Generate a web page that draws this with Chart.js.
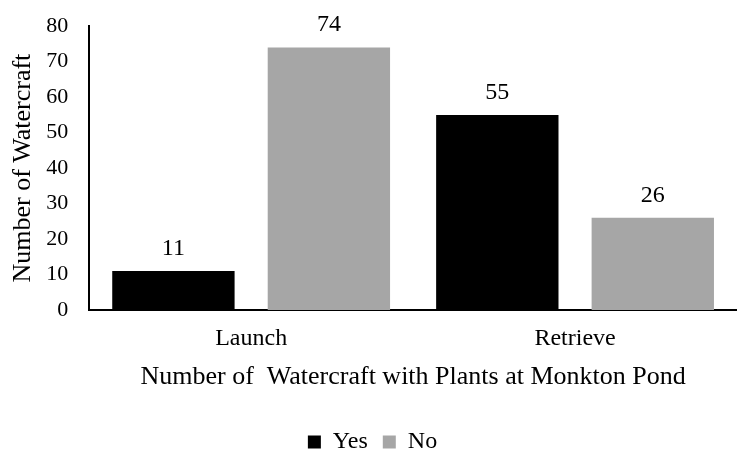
<!DOCTYPE html>
<html>
<head>
<meta charset="utf-8">
<script src="https://cdn.jsdelivr.net/npm/chart.js@4"></script>
<style>
  html, body { margin: 0; padding: 0; background: #fff; }
  #wrap { width: 737px; height: 454px; }
</style>
</head>
<body>
<div id="wrap"><canvas id="barChart"></canvas></div>
<script>
const categories = ['Launch', 'Retrieve'];
const yesValues = [11, 55];
const noValues = [74, 26];
const yTicks = [0, 10, 20, 30, 40, 50, 60, 70, 80];

const serif = "'Liberation Serif', 'Times New Roman', serif";

// draws the number above each bar
const valueLabels = {
    id: 'valueLabels',
    afterDatasetsDraw(chart) {
        const ctx = chart.ctx;
        ctx.save();
        ctx.font = "24px " + serif;
        ctx.fillStyle = '#000';
        ctx.textAlign = 'center';
        ctx.textBaseline = 'alphabetic';
        chart.data.datasets.forEach((ds, i) => {
            chart.getDatasetMeta(i).data.forEach((bar, j) => {
                ctx.fillText(ds.data[j], bar.x, bar.y - 16);
            });
        });
        ctx.restore();
    }
};

const data = {
    labels: categories,
    datasets: [
        {
            label: 'Yes',
            data: yesValues,
            backgroundColor: '#000000',
            categoryPercentage: 0.96,
            barPercentage: 0.787
        },
        {
            label: 'No',
            data: noValues,
            backgroundColor: '#a6a6a6',
            categoryPercentage: 0.96,
            barPercentage: 0.787
        }
    ]
};

const options = {
    responsive: true,
    maintainAspectRatio: false,
    animation: false,
    layout: {
        padding: { top: 25, right: 0, left: 8, bottom: -10 }
    },
    plugins: {
        legend: {
            position: 'bottom',
            labels: {
                font: { family: serif, size: 24 },
                color: '#000',
                boxWidth: 13,
                boxHeight: 13,
                padding: 15
            }
        },
        tooltip: { enabled: false }
    },
    scales: {
        x: {
            grid: { display: false },
            border: { display: true, color: '#000', width: 2 },
            ticks: {
                color: '#000',
                font: { family: serif, size: 24 },
                padding: 6
            },
            title: {
                display: true,
                text: 'Number of  Watercraft with Plants at Monkton Pond',
                color: '#000',
                font: { family: serif, size: 26 },
                padding: { top: 3, bottom: 22 }
            }
        },
        y: {
            min: 0,
            max: 80,
            afterBuildTicks: (axis) => {
                axis.ticks = yTicks.map(v => ({ value: v }));
            },
            grid: { display: false },
            border: { display: true, color: '#000', width: 2 },
            ticks: {
                color: '#000',
                font: { family: serif, size: 22 },
                padding: 13
            },
            title: {
                display: true,
                text: 'Number of Watercraft',
                color: '#000',
                font: { family: serif, size: 26 },
                padding: { top: 0, bottom: -6 }
            }
        }
    }
};

new Chart(document.getElementById('barChart').getContext('2d'), {
    type: 'bar',
    data: data,
    options: options,
    plugins: [valueLabels]
});
</script>
</body>
</html>
